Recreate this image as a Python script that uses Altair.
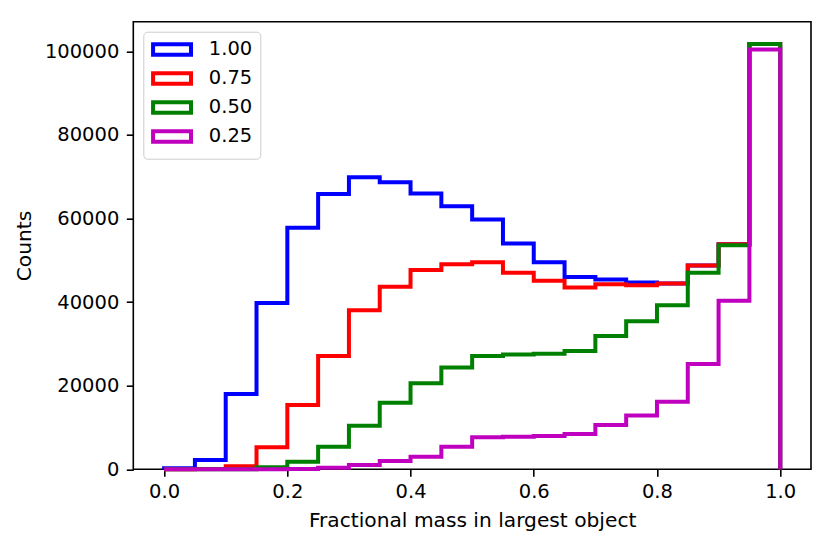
import altair as alt
import pandas as pd

# Bin edges of the histogram (20 bins of width 0.05 from 0 to 1)
bin_edges = [round(0.05 * i, 2) for i in range(21)]

series_names = ["1.00", "0.75", "0.50", "0.25"]
series_colors = ["#0000ff", "#ff0000", "#008000", "#bf00bf"]

counts_100 = [240, 2200, 18000, 39800, 57800, 65900, 69900, 68700, 66000, 62950,
              59800, 54000, 49550, 46000, 45400, 44700, 44470, 48770, 53860, 101750]
counts_075 = [0, 50, 700, 5260, 15370, 27090, 38080, 43650, 47700, 49080,
              49560, 47000, 45090, 43500, 44300, 44060, 44470, 48770, 53860, 101750]
counts_050 = [0, 0, 30, 500, 1800, 5400, 10400, 15900, 20560, 24380,
              27090, 27490, 27640, 28280, 31870, 35450, 39280, 47000, 53620, 101750]
counts_025 = [0, 0, 0, 20, 100, 400, 1030, 1980, 3000, 5400,
              7650, 7800, 7960, 8440, 10590, 12900, 16160, 25170, 40310, 100450]

all_counts = [counts_100, counts_075, counts_050, counts_025]

# Build the step outline (as matplotlib histtype='step') from the bin counts
rows = []
for name, counts in zip(series_names, all_counts):
    k = 0
    rows.append({"series": name, "x": bin_edges[0], "y": 0, "k": k}); k += 1
    for i, c in enumerate(counts):
        rows.append({"series": name, "x": bin_edges[i], "y": c, "k": k}); k += 1
        rows.append({"series": name, "x": bin_edges[i + 1], "y": c, "k": k}); k += 1
    rows.append({"series": name, "x": bin_edges[-1], "y": 0, "k": k})
df = pd.DataFrame(rows)

FONT = "DejaVu Sans"
FS = 19.5
TFS = 20.2

color_scale = alt.Scale(domain=series_names, range=series_colors)

legend = alt.Legend(
    title=None,
    orient="none",
    legendX=10,
    legendY=10,
    fillColor="white",
    strokeColor="#cccccc",
    cornerRadius=4,
    padding=8,
    symbolType="M-2.6,-0.72L2.6,-0.72L2.6,0.72L-2.6,0.72Z",
    symbolSize=213,
    symbolStrokeWidth=4,
    symbolFillColor="transparent",
    symbolOffset=11,
    labelOffset=27,
    labelFont=FONT,
    labelFontSize=FS,
    labelColor="black",
    rowPadding=1,
)

x_enc = alt.X("x:Q", scale=alt.Scale(domain=[-0.05, 1.05], nice=False, zero=False),
              axis=alt.Axis(values=[0, 0.2, 0.4, 0.6, 0.8, 1.0], format=".1f",
                            title="Fractional mass in largest object", grid=False))
y_enc = alt.Y("y:Q", scale=alt.Scale(domain=[0, 107100], nice=False),
              axis=alt.Axis(values=[0, 20000, 40000, 60000, 80000, 100000], format="d",
                            title="Counts", grid=False))

layers = []
for idx, name in enumerate(series_names):
    enc = dict(
        x=x_enc,
        y=y_enc,
        order=alt.Order("k:Q"),
        color=alt.Color("series:N", scale=color_scale,
                        legend=legend if idx == 0 else None),
    )
    layers.append(
        alt.Chart(df)
        .transform_filter(alt.datum.series == name)
        .mark_line(strokeWidth=4, strokeJoin="miter", strokeCap="butt")
        .encode(**enc)
    )

chart = (
    alt.layer(*layers)
    .properties(
        width=677.7,
        height=447.6,
        autosize=alt.AutoSizeParams(type="none"),
        padding={"left": 125.3, "top": 13.7, "right": 10, "bottom": 76},
    )
    .configure_view(stroke="black", strokeWidth=1.6)
    .configure_axis(
        domain=False,
        tickColor="black",
        tickSize=7,
        tickWidth=1.6,
        labelFont=FONT,
        labelFontSize=FS,
        labelColor="black",
        titleFont=FONT,
        titleFontSize=TFS,
        titleFontWeight="normal",
        titleColor="black",
    )
    .configure_axisX(labelPadding=6, titlePadding=10)
    .configure_axisY(labelPadding=7.5, titlePadding=10)
)

chart.save("out.html", embed_options={"renderer": "svg", "actions": False})
